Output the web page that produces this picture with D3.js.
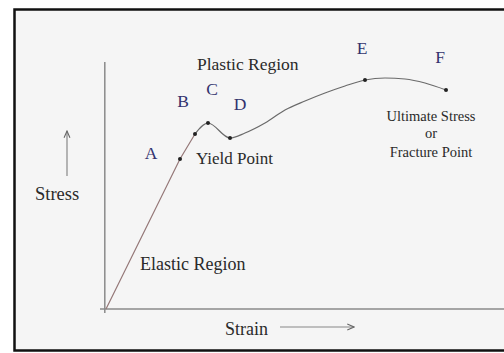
<!DOCTYPE html>
<html>
<head>
<meta charset="utf-8">
<script src="https://cdn.jsdelivr.net/npm/d3@7"></script>
<style>
  body { margin: 0; background: #fff; }
  text { font-family: "Liberation Serif", "Times New Roman", serif; fill: #2a2a2a; }
  .letter { fill: #33336e; }
</style>
</head>
<body>
<div id="chart"></div>
<script>
// stress-strain curve (arbitrary units)
var strain = [0, 18.5, 22.25, 25.5, 31, 34.75, 39.75, 44.75, 49.75, 54.75, 59.75, 64.75, 69.75, 74.75, 79.75, 85]
var stress = [0, 60, 70, 74.4, 68.4, 70.4, 74.4, 79.6, 83.2, 86.4, 89.2, 91.6, 92.4, 92, 90.4, 87.6]

// labelled points on the curve
var pointNames = ['A', 'B', 'C', 'D', 'E', 'F']
var pointIndex = [1, 2, 3, 4, 11, 15]

var width = 504
var height = 353

var xScale = d3.scaleLinear().domain([0, 100]).range([106, 506])
var yScale = d3.scaleLinear().domain([0, 100]).range([309, 59])

var svg = d3.select('#chart')
  .append('svg')
  .attr('width', width)
  .attr('height', height)

// frame
svg.append('rect')
  .attr('x', 14).attr('y', 9)
  .attr('width', width - 14).attr('height', 341)
  .attr('fill', '#f5f5f5')

svg.append('path')
  .attr('d', `M${width},9.5 H14.5 V350.5 H${width}`)
  .attr('fill', 'none')
  .attr('stroke', '#111')
  .attr('stroke-width', 2.5)

// axes (plain lines, no ticks)
svg.append('line')
  .attr('x1', xScale(-0.3)).attr('x2', xScale(-0.3))
  .attr('y1', yScale(-1.6)).attr('y2', yScale(98.8))
  .attr('stroke', '#8a8a8a').attr('stroke-width', 1.5)

svg.append('line')
  .attr('x1', xScale(-1.5)).attr('x2', xScale(100))
  .attr('y1', yScale(0)).attr('y2', yScale(0))
  .attr('stroke', '#8a8a8a').attr('stroke-width', 1.5)

// arrowheads
var defs = svg.append('defs')
defs.append('marker')
  .attr('id', 'arrow')
  .attr('viewBox', '0 0 10 10')
  .attr('refX', 9).attr('refY', 5)
  .attr('markerWidth', 7).attr('markerHeight', 7)
  .attr('orient', 'auto')
  .append('path')
  .attr('d', 'M1,1.5 L9,5 L1,8.5')
  .attr('fill', 'none')
  .attr('stroke', '#666')
  .attr('stroke-width', 1.3)

svg.append('line')
  .attr('x1', 67).attr('y1', 176)
  .attr('x2', 67).attr('y2', 131)
  .attr('stroke', '#888').attr('stroke-width', 1.2)
  .attr('marker-end', 'url(#arrow)')

svg.append('line')
  .attr('x1', 280).attr('y1', 327)
  .attr('x2', 354).attr('y2', 327)
  .attr('stroke', '#888').attr('stroke-width', 1.2)
  .attr('marker-end', 'url(#arrow)')

// the curve: straight elastic part, smooth plastic part
var pts = strain.map((s, i) => [s, stress[i]])
var elastic = d3.line()
  .x(d => xScale(d[0]))
  .y(d => yScale(d[1]))
var plastic = d3.line()
  .x(d => xScale(d[0]))
  .y(d => yScale(d[1]))
  .curve(d3.curveMonotoneX)

svg.append('path')
  .datum(pts.slice(0, 3))
  .attr('d', elastic)
  .attr('fill', 'none')
  .attr('stroke', '#957878')
  .attr('stroke-width', 1.2)

svg.append('path')
  .datum(pts.slice(2))
  .attr('d', plastic)
  .attr('fill', 'none')
  .attr('stroke', '#6a6a6a')
  .attr('stroke-width', 1.2)

svg.selectAll('circle')
  .data(pointIndex)
  .enter()
  .append('circle')
  .attr('cx', i => xScale(strain[i]))
  .attr('cy', i => yScale(stress[i]))
  .attr('r', 2)
  .attr('fill', '#222')

// point letters
var letterPos = [[151, 159], [183, 107], [212, 95], [240, 110], [362, 54], [440, 63]]
svg.selectAll('.letter')
  .data(pointNames)
  .enter()
  .append('text')
  .attr('class', 'letter')
  .attr('x', (d, i) => letterPos[i][0])
  .attr('y', (d, i) => letterPos[i][1])
  .attr('text-anchor', 'middle')
  .attr('font-size', 17.5)
  .text(d => d)

// labels
var labels = [
  { text: 'Plastic Region', x: 197, y: 70, size: 17.5, anchor: 'start' },
  { text: 'Yield Point', x: 196, y: 164, size: 17, anchor: 'start' },
  { text: 'Elastic Region', x: 140, y: 270, size: 18, anchor: 'start' },
  { text: 'Stress', x: 35, y: 200, size: 18.5, anchor: 'start' },
  { text: 'Strain', x: 225, y: 335, size: 18, anchor: 'start' },
  { text: 'Ultimate Stress', x: 431, y: 121, size: 14.5, anchor: 'middle' },
  { text: 'or', x: 431, y: 138, size: 14.5, anchor: 'middle' },
  { text: 'Fracture Point', x: 431, y: 157, size: 14.5, anchor: 'middle' }
]

svg.selectAll('.label')
  .data(labels)
  .enter()
  .append('text')
  .attr('class', 'label')
  .attr('x', d => d.x)
  .attr('y', d => d.y)
  .attr('text-anchor', d => d.anchor)
  .attr('font-size', d => d.size)
  .attr('fill', d => d.size < 15 ? '#444' : null)
  .text(d => d.text)
</script>
</body>
</html>
